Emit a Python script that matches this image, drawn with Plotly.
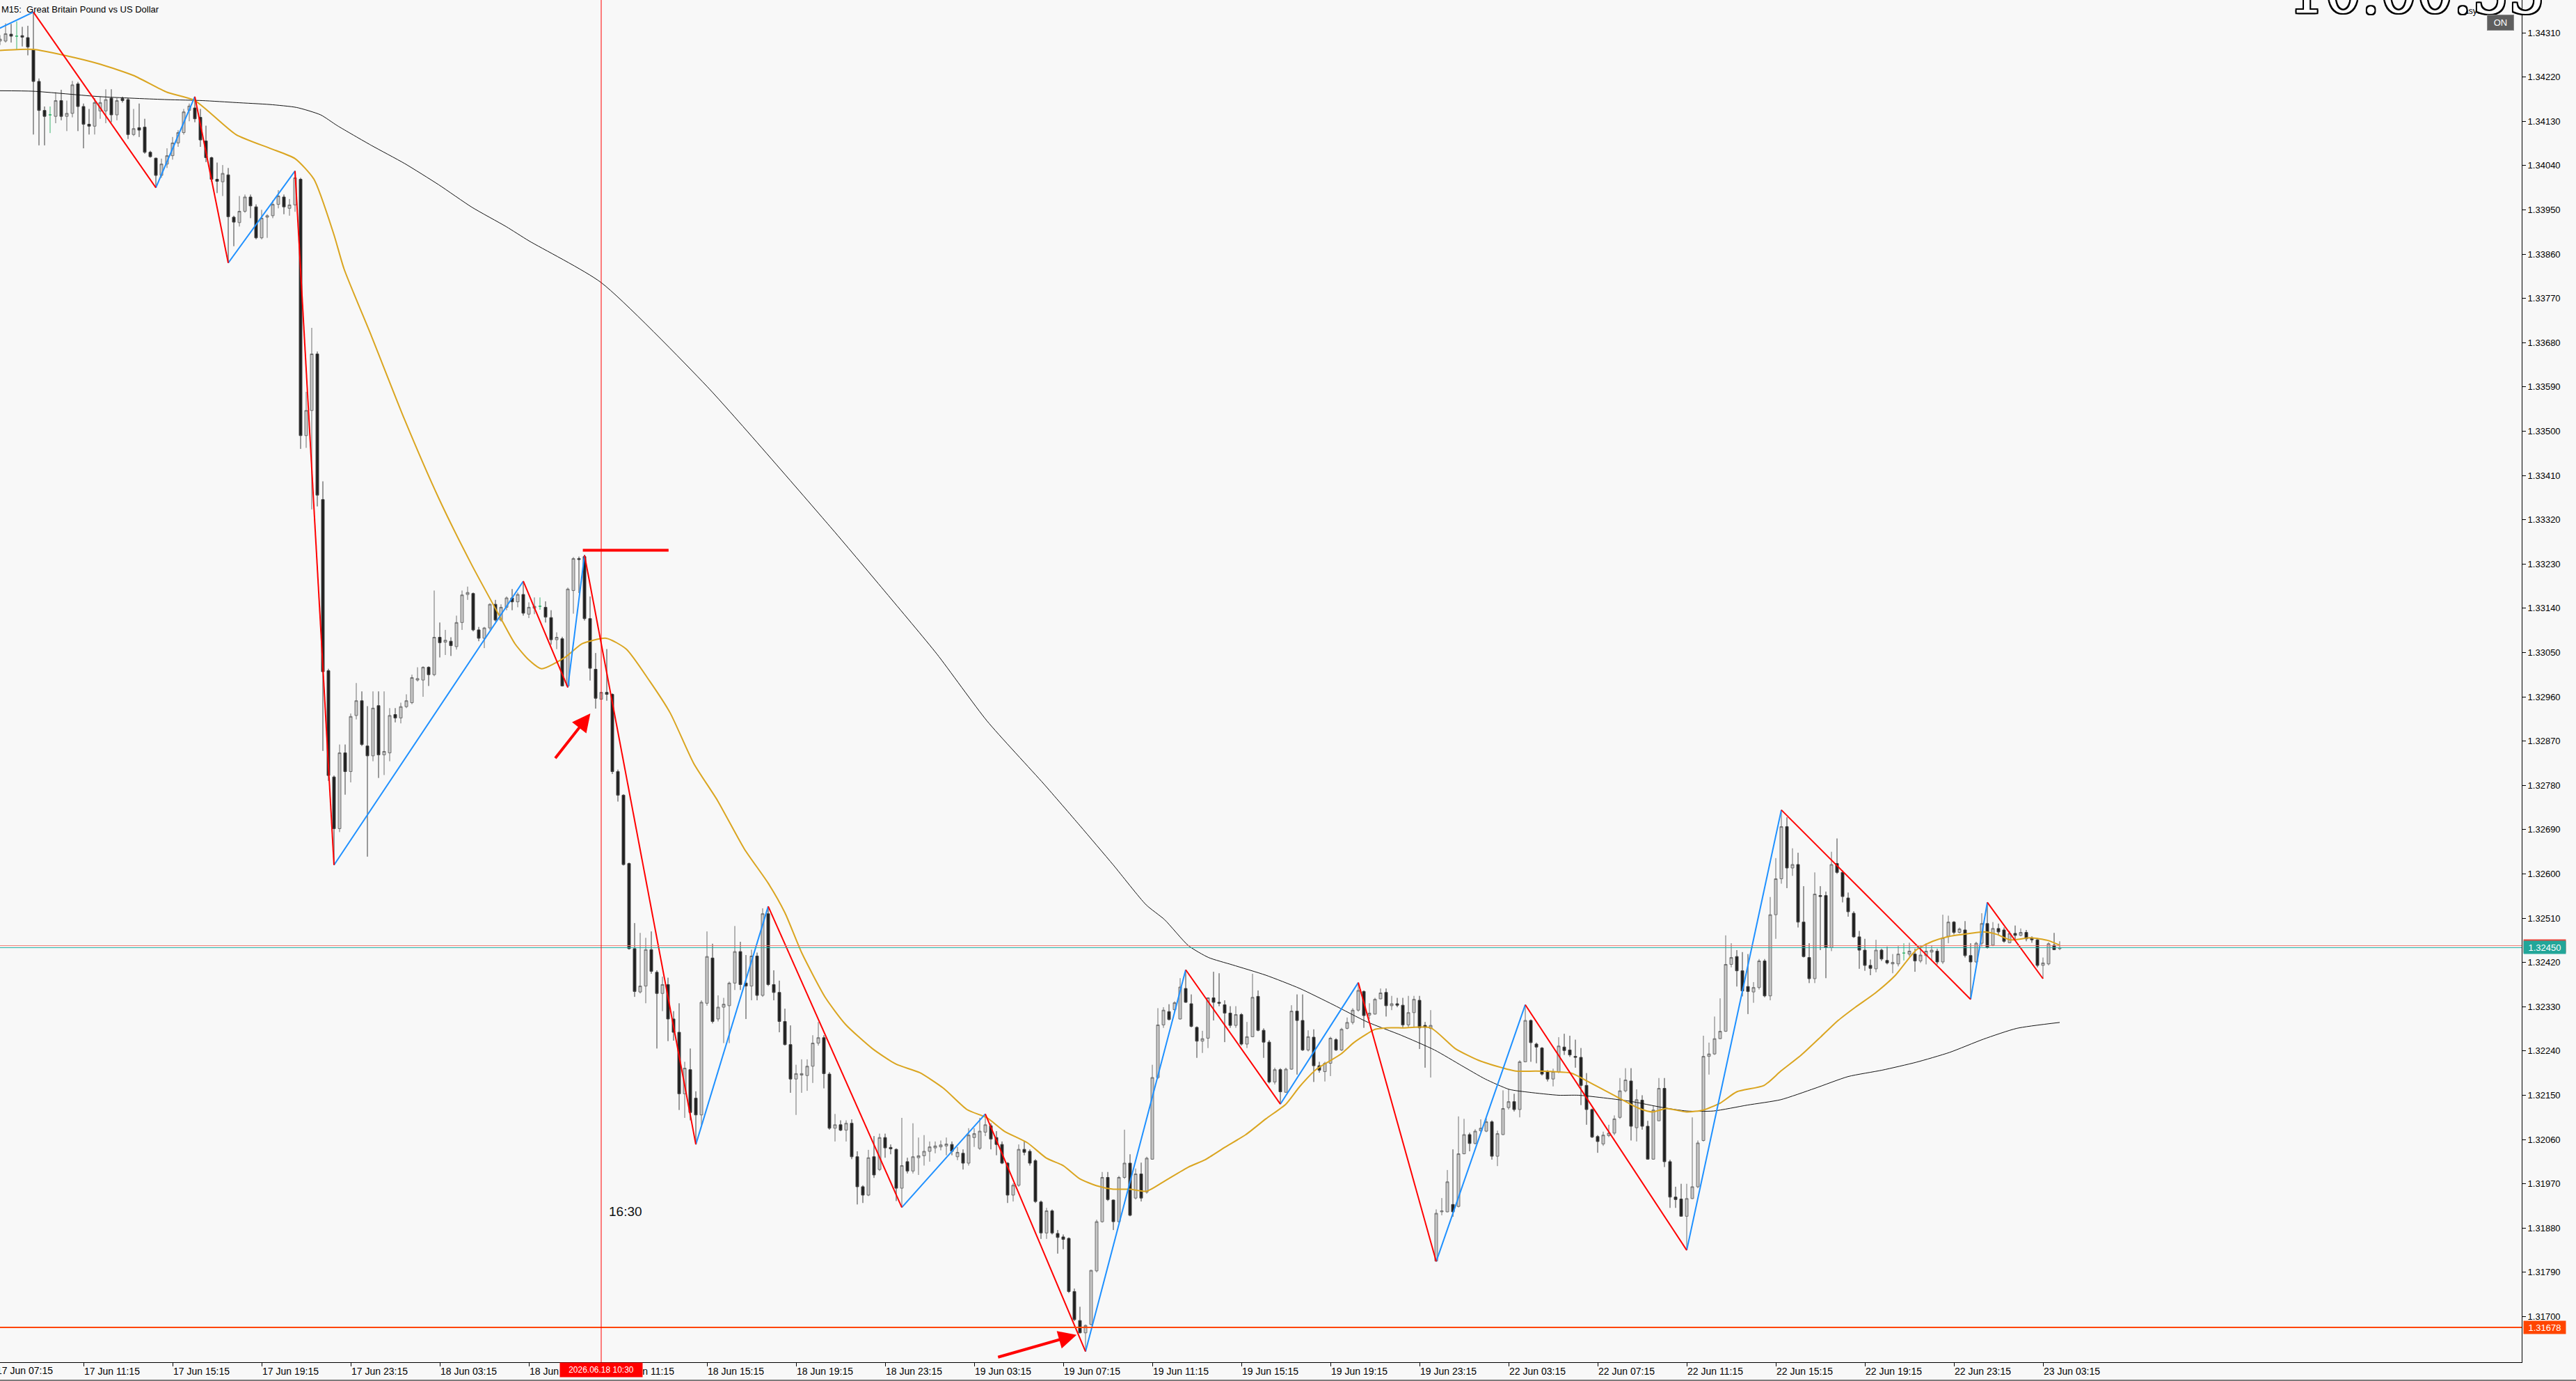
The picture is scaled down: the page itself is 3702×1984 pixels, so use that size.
import plotly.graph_objects as go

# ---------------- data (M15 GBPUSD, bar index 1..371; bar 0 = 17 Jun 07:15) ----------------
OPEN = [
1.34293,1.34293,1.34307,1.34303,1.34304,1.34300,1.34275,1.34211,1.34152,1.34143,
1.34140,1.34172,1.34140,1.34146,1.34206,1.34160,1.34124,1.34120,1.34151,1.34151,
1.34177,1.34143,1.34176,1.34174,1.34103,1.34117,1.34118,1.34067,1.34055,1.34020,
1.34043,1.34060,1.34086,1.34107,1.34152,1.34157,1.34138,1.34090,1.34056,1.34012,
1.34007,1.34021,1.33935,1.33924,1.33947,1.33976,1.33956,1.33893,1.33935,1.33938,
1.33961,1.33976,1.33953,1.33960,1.34012,1.33491,1.33542,1.33657,1.33361,1.33013,
1.32797,1.32692,1.32846,1.32808,1.32922,1.32952,1.32860,1.32840,1.32942,1.32842,
1.32846,1.32924,1.32917,1.32940,1.32948,1.32994,1.32994,1.33020,1.33005,1.33081,
1.33071,1.33073,1.33062,1.33111,1.33168,1.33170,1.33096,1.33079,1.33100,1.33148,
1.33116,1.33142,1.33161,1.33153,1.33168,1.33128,1.33140,1.33144,1.33142,1.33121,
1.33076,1.33078,1.32982,1.33176,1.33241,1.33245,1.33119,1.33016,1.32955,1.32969,
1.32965,1.32808,1.32760,1.32621,1.32448,1.32360,1.32372,1.32446,1.32400,1.32357,
1.32375,1.32305,1.32278,1.32153,1.32202,1.32144,1.32110,1.32337,1.32429,1.32305,
1.32329,1.32332,1.32378,1.32442,1.32378,1.32372,1.32433,1.32353,1.32519,1.32375,
1.32359,1.32300,1.32253,1.32183,1.32191,1.32190,1.32209,1.32256,1.32267,1.32193,
1.32083,1.32090,1.32079,1.32093,1.32025,1.31964,1.31947,1.32025,1.31999,1.32064,
1.32044,1.32040,1.31961,1.32015,1.31996,1.32023,1.32027,1.32036,1.32043,1.32045,
1.32047,1.32050,1.32025,1.32032,1.32012,1.32064,1.32042,1.32075,1.32088,1.32064,
1.32050,1.32012,1.31947,1.31967,1.32040,1.32036,1.32017,1.31933,1.31870,1.31915,
1.31869,1.31862,1.31859,1.31751,1.31692,1.31667,1.31684,1.31793,1.31893,1.31983,
1.31937,1.31893,1.31983,1.32012,1.31941,1.31990,1.31953,1.32020,1.32186,1.32293,
1.32320,1.32324,1.32305,1.32367,1.32336,1.32288,1.32260,1.32266,1.32348,1.32339,
1.32334,1.32317,1.32292,1.32314,1.32254,1.32269,1.32351,1.32282,1.32258,1.32177,
1.32202,1.32156,1.32203,1.32321,1.32302,1.32242,1.32268,1.32210,1.32198,1.32215,
1.32263,1.32242,1.32286,1.32298,1.32323,1.32361,1.32313,1.32315,1.32346,1.32359,
1.32332,1.32336,1.32333,1.32293,1.32318,1.32343,1.32292,1.32286,1.31813,1.31913,
1.31913,1.31928,1.31924,1.32031,1.32070,1.32052,1.32078,1.32077,1.32096,1.32026,
1.32070,1.32125,1.32137,1.32121,1.32218,1.32302,1.32254,1.32246,1.32198,1.32183,
1.32198,1.32248,1.32242,1.32229,1.32227,1.32170,1.32121,1.32066,1.32051,1.32068,
1.32073,1.32105,1.32159,1.32179,1.32084,1.32140,1.32087,1.32020,1.32098,1.32164,
1.32015,1.31943,1.31939,1.31904,1.31940,1.31964,1.32058,1.32229,1.32234,1.32265,
1.32280,1.32416,1.32432,1.32403,1.32371,1.32360,1.32369,1.32423,1.32352,1.32517,
1.32590,1.32696,1.32612,1.32619,1.32502,1.32430,1.32387,1.32556,1.32556,1.32450,
1.32621,1.32603,1.32551,1.32520,1.32472,1.32445,1.32414,1.32407,1.32445,1.32424,
1.32417,1.32417,1.32439,1.32437,1.32437,1.32423,1.32434,1.32441,1.32443,1.32421,
1.32473,1.32502,1.32481,1.32486,1.32434,1.32421,1.32459,1.32499,1.32455,1.32489,
1.32486,1.32460,1.32479,1.32475,1.32481,1.32470,1.32466,1.32414,1.32417,1.32455,1.32448]

HIGH = [
1.34305,1.34329,1.34328,1.34333,1.34322,1.34324,1.34352,1.34217,1.34160,1.34160,
1.34189,1.34194,1.34172,1.34212,1.34210,1.34166,1.34155,1.34177,1.34180,1.34195,
1.34195,1.34177,1.34180,1.34177,1.34155,1.34166,1.34135,1.34070,1.34056,1.34054,
1.34075,1.34098,1.34112,1.34155,1.34166,1.34180,1.34155,1.34121,1.34058,1.34046,
1.34041,1.34035,1.33938,1.33978,1.33981,1.33981,1.33961,1.33950,1.33941,1.33969,
1.33990,1.33981,1.33972,1.34029,1.34015,1.33580,1.33710,1.33662,1.33398,1.33017,
1.32800,1.32863,1.32863,1.32926,1.32988,1.32971,1.32941,1.32971,1.32971,1.32971,
1.32937,1.32937,1.32948,1.32965,1.33005,1.33020,1.33022,1.33022,1.33176,1.33111,
1.33096,1.33081,1.33125,1.33176,1.33184,1.33172,1.33102,1.33102,1.33150,1.33157,
1.33148,1.33164,1.33179,1.33172,1.33195,1.33152,1.33162,1.33162,1.33154,1.33136,
1.33091,1.33082,1.33182,1.33244,1.33245,1.33248,1.33164,1.33049,1.32969,1.33057,
1.32967,1.32812,1.32762,1.32623,1.32500,1.32480,1.32470,1.32483,1.32404,1.32391,
1.32389,1.32321,1.32337,1.32218,1.32245,1.32158,1.32343,1.32483,1.32458,1.32353,
1.32348,1.32381,1.32494,1.32462,1.32435,1.32446,1.32440,1.32530,1.32534,1.32404,
1.32383,1.32326,1.32292,1.32212,1.32223,1.32223,1.32272,1.32299,1.32272,1.32197,
1.32112,1.32099,1.32099,1.32101,1.32036,1.31967,1.32039,1.32067,1.32072,1.32072,
1.32050,1.32042,1.32104,1.32023,1.32093,1.32064,1.32069,1.32056,1.32056,1.32058,
1.32064,1.32056,1.32045,1.32040,1.32083,1.32083,1.32104,1.32112,1.32093,1.32077,
1.32056,1.32014,1.31971,1.32050,1.32056,1.32040,1.32020,1.31936,1.31921,1.31918,
1.31876,1.31867,1.31861,1.31757,1.31720,1.31684,1.31795,1.31897,1.31994,1.31994,
1.31938,1.31986,1.32080,1.32030,1.32001,1.32013,1.32025,1.32212,1.32327,1.32329,
1.32335,1.32341,1.32388,1.32405,1.32355,1.32290,1.32281,1.32349,1.32401,1.32398,
1.32343,1.32331,1.32331,1.32317,1.32299,1.32397,1.32363,1.32286,1.32262,1.32206,
1.32205,1.32206,1.32333,1.32355,1.32355,1.32282,1.32284,1.32218,1.32218,1.32269,
1.32266,1.32287,1.32308,1.32327,1.32379,1.32363,1.32337,1.32348,1.32367,1.32367,
1.32352,1.32348,1.32348,1.32352,1.32352,1.32352,1.32299,1.32323,1.31918,1.31941,
1.31998,1.32040,1.32107,1.32102,1.32074,1.32081,1.32101,1.32103,1.32099,1.32078,
1.32160,1.32162,1.32153,1.32221,1.32334,1.32304,1.32257,1.32248,1.32201,1.32204,
1.32268,1.32275,1.32271,1.32263,1.32246,1.32195,1.32123,1.32069,1.32076,1.32090,
1.32109,1.32185,1.32205,1.32205,1.32162,1.32150,1.32098,1.32128,1.32185,1.32185,
1.32019,1.31964,1.31970,1.31970,1.32105,1.32058,1.32271,1.32257,1.32310,1.32347,
1.32475,1.32459,1.32445,1.32441,1.32437,1.32380,1.32427,1.32427,1.32553,1.32632,
1.32730,1.32715,1.32652,1.32643,1.32575,1.32459,1.32603,1.32575,1.32564,1.32645,
1.32672,1.32607,1.32562,1.32524,1.32484,1.32468,1.32426,1.32466,1.32448,1.32452,
1.32437,1.32453,1.32459,1.32460,1.32448,1.32455,1.32459,1.32455,1.32448,1.32517,
1.32515,1.32504,1.32491,1.32504,1.32459,1.32462,1.32520,1.32542,1.32502,1.32499,
1.32491,1.32484,1.32495,1.32489,1.32486,1.32473,1.32468,1.32430,1.32461,1.32480,1.32463]

LOW = [
1.34285,1.34290,1.34290,1.34275,1.34282,1.34264,1.34103,1.34081,1.34081,1.34106,
1.34126,1.34132,1.34110,1.34138,1.34110,1.34075,1.34103,1.34103,1.34135,1.34126,
1.34128,1.34132,1.34168,1.34094,1.34100,1.34098,1.34064,1.34056,1.33995,1.34015,
1.34035,1.34052,1.34078,1.34103,1.34130,1.34128,1.34078,1.34047,1.34007,1.33984,
1.33978,1.33842,1.33876,1.33916,1.33944,1.33933,1.33890,1.33890,1.33893,1.33933,
1.33953,1.33941,1.33938,1.33946,1.33464,1.33466,1.33341,1.33347,1.32850,1.32789,
1.32618,1.32685,1.32761,1.32786,1.32914,1.32860,1.32635,1.32829,1.32795,1.32801,
1.32829,1.32908,1.32906,1.32937,1.32945,1.32991,1.32960,1.32982,1.33002,1.33040,
1.33045,1.33043,1.33056,1.33096,1.33157,1.33093,1.33073,1.33059,1.33096,1.33113,
1.33113,1.33136,1.33136,1.33142,1.33125,1.33120,1.33128,1.33137,1.33111,1.33066,
1.33057,1.32981,1.32979,1.33129,1.33171,1.33115,1.32993,1.32936,1.32955,1.32952,
1.32803,1.32747,1.32617,1.32446,1.32350,1.32357,1.32337,1.32397,1.32245,1.32321,
1.32260,1.32261,1.32120,1.32104,1.32099,1.32050,1.32090,1.32332,1.32296,1.32300,
1.32256,1.32256,1.32364,1.32364,1.32305,1.32343,1.32343,1.32350,1.32372,1.32343,
1.32278,1.32251,1.32155,1.32110,1.32155,1.32159,1.32175,1.32251,1.32164,1.32080,
1.32056,1.32077,1.32056,1.32020,1.31928,1.31931,1.31945,1.31982,1.31996,1.32023,
1.32030,1.31935,1.31922,1.31991,1.31991,1.31988,1.32007,1.32015,1.32032,1.32038,
1.32028,1.32028,1.32018,1.31999,1.32007,1.32045,1.32039,1.32067,1.32040,1.32028,
1.32010,1.31931,1.31934,1.31964,1.32028,1.32007,1.31931,1.31858,1.31858,1.31867,
1.31828,1.31837,1.31748,1.31691,1.31666,1.31629,1.31682,1.31790,1.31891,1.31935,
1.31876,1.31891,1.31980,1.31904,1.31938,1.31934,1.31950,1.32019,1.32183,1.32287,
1.32302,1.32320,1.32304,1.32338,1.32288,1.32226,1.32236,1.32246,1.32302,1.32331,
1.32258,1.32287,1.32287,1.32251,1.32246,1.32268,1.32280,1.32226,1.32174,1.32172,
1.32132,1.32155,1.32202,1.32192,1.32240,1.32239,1.32177,1.32196,1.32178,1.32189,
1.32240,1.32240,1.32284,1.32294,1.32320,1.32287,1.32305,1.32314,1.32345,1.32310,
1.32323,1.32329,1.32288,1.32287,1.32287,1.32244,1.32206,1.32186,1.31812,1.31906,
1.31912,1.31903,1.31922,1.32030,1.32036,1.32050,1.32075,1.32075,1.32019,1.32006,
1.32069,1.32121,1.32117,1.32105,1.32217,1.32218,1.32215,1.32190,1.32178,1.32168,
1.32195,1.32232,1.32228,1.32206,1.32130,1.32090,1.32063,1.32033,1.32047,1.32065,
1.32069,1.32102,1.32156,1.32058,1.32056,1.32080,1.32019,1.32019,1.32098,1.32004,
1.31921,1.31921,1.31903,1.31835,1.31939,1.31961,1.32056,1.32192,1.32232,1.32264,
1.32279,1.32410,1.32371,1.32351,1.32315,1.32338,1.32365,1.32349,1.32343,1.32468,
1.32580,1.32571,1.32596,1.32491,1.32430,1.32378,1.32378,1.32445,1.32388,1.32443,
1.32600,1.32542,1.32513,1.32470,1.32407,1.32403,1.32394,1.32400,1.32423,1.32416,
1.32398,1.32412,1.32424,1.32432,1.32401,1.32419,1.32416,1.32424,1.32416,1.32417,
1.32459,1.32477,1.32479,1.32430,1.32345,1.32419,1.32452,1.32448,1.32453,1.32475,
1.32460,1.32459,1.32466,1.32473,1.32463,1.32460,1.32410,1.32387,1.32414,1.32445,1.32445]

CLOSE = [
1.34297,1.34308,1.34303,1.34303,1.34301,1.34281,1.34211,1.34152,1.34140,1.34143,
1.34172,1.34140,1.34146,1.34204,1.34160,1.34124,1.34120,1.34168,1.34168,1.34174,
1.34143,1.34172,1.34172,1.34103,1.34115,1.34112,1.34067,1.34058,1.34020,1.34043,
1.34060,1.34086,1.34107,1.34149,1.34161,1.34135,1.34092,1.34056,1.34012,1.34008,
1.34024,1.33936,1.33925,1.33947,1.33976,1.33958,1.33893,1.33933,1.33938,1.33961,
1.33978,1.33956,1.33960,1.34015,1.33491,1.33542,1.33657,1.33370,1.33011,1.32800,
1.32692,1.32846,1.32808,1.32920,1.32952,1.32863,1.32840,1.32937,1.32842,1.32849,
1.32922,1.32917,1.32940,1.32952,1.32999,1.32997,1.33020,1.33005,1.33081,1.33070,
1.33075,1.33064,1.33111,1.33167,1.33172,1.33096,1.33079,1.33100,1.33148,1.33116,
1.33142,1.33161,1.33153,1.33168,1.33130,1.33142,1.33144,1.33144,1.33122,1.33076,
1.33081,1.32982,1.33179,1.33241,1.33239,1.33119,1.33018,1.32957,1.32969,1.32965,
1.32808,1.32760,1.32619,1.32448,1.32361,1.32372,1.32446,1.32402,1.32357,1.32375,
1.32305,1.32278,1.32153,1.32205,1.32115,1.32110,1.32339,1.32432,1.32300,1.32329,
1.32335,1.32378,1.32442,1.32375,1.32372,1.32433,1.32353,1.32519,1.32375,1.32359,
1.32300,1.32253,1.32183,1.32194,1.32194,1.32209,1.32256,1.32267,1.32194,1.32083,
1.32090,1.32079,1.32093,1.32025,1.31964,1.31947,1.32023,1.31988,1.32064,1.32043,
1.32041,1.31961,1.32007,1.31996,1.32025,1.32027,1.32036,1.32045,1.32047,1.32049,
1.32051,1.32036,1.32034,1.32012,1.32069,1.32072,1.32077,1.32090,1.32061,1.32050,
1.32012,1.31947,1.31967,1.32040,1.32034,1.32012,1.31934,1.31870,1.31915,1.31870,
1.31861,1.31857,1.31751,1.31694,1.31667,1.31682,1.31794,1.31893,1.31983,1.31938,
1.31893,1.31983,1.32012,1.31906,1.31990,1.31941,1.32022,1.32186,1.32293,1.32323,
1.32304,1.32338,1.32370,1.32339,1.32290,1.32260,1.32265,1.32348,1.32339,1.32337,
1.32317,1.32292,1.32314,1.32254,1.32269,1.32349,1.32282,1.32258,1.32177,1.32202,
1.32157,1.32203,1.32321,1.32302,1.32242,1.32269,1.32210,1.32201,1.32215,1.32266,
1.32242,1.32284,1.32298,1.32323,1.32363,1.32312,1.32317,1.32345,1.32358,1.32332,
1.32336,1.32333,1.32293,1.32318,1.32345,1.32287,1.32288,1.32292,1.31910,1.31915,
1.31974,1.31913,1.32031,1.32070,1.32052,1.32077,1.32083,1.32096,1.32026,1.32072,
1.32123,1.32137,1.32121,1.32218,1.32302,1.32257,1.32248,1.32193,1.32183,1.32198,
1.32250,1.32241,1.32232,1.32227,1.32170,1.32121,1.32065,1.32056,1.32069,1.32073,
1.32102,1.32159,1.32181,1.32087,1.32141,1.32087,1.32020,1.32120,1.32164,1.32015,
1.31943,1.31938,1.31904,1.31940,1.31964,1.32053,1.32229,1.32234,1.32265,1.32280,
1.32416,1.32430,1.32403,1.32362,1.32361,1.32369,1.32423,1.32352,1.32517,1.32590,
1.32696,1.32612,1.32619,1.32502,1.32432,1.32387,1.32559,1.32554,1.32450,1.32619,
1.32603,1.32554,1.32523,1.32472,1.32445,1.32414,1.32408,1.32445,1.32427,1.32419,
1.32420,1.32437,1.32439,1.32443,1.32423,1.32435,1.32443,1.32445,1.32421,1.32470,
1.32502,1.32481,1.32488,1.32434,1.32421,1.32459,1.32499,1.32450,1.32489,1.32482,
1.32463,1.32479,1.32475,1.32481,1.32468,1.32466,1.32414,1.32419,1.32458,1.32446,1.32450]

FIRST_BAR = 1
BARS = list(range(FIRST_BAR, FIRST_BAR + len(OPEN)))
assert len(OPEN) == len(HIGH) == len(LOW) == len(CLOSE) == 371

# ZigZag pivots (bar, price)
ZZ_BARS = [0, 7, 29, 36, 42, 54, 61, 95, 103, 106, 126, 139, 163, 178, 196, 214, 231, 245, 259, 275, 304, 321, 355, 358, 368]
ZZ_PRICES = [1.34314, 1.34352, 1.33995, 1.34180, 1.33842, 1.34029, 1.32618, 1.33195, 1.32979, 1.33248,
             1.32050, 1.32534, 1.31922, 1.32112, 1.31629, 1.32405, 1.32132, 1.32379, 1.31812, 1.32334,
             1.31835, 1.32730, 1.32345, 1.32542, 1.32387]

# Fast MA (orange) read at points
MAF_BARS = [1, 7, 13, 19, 25, 31, 36, 43.4, 49.5, 54, 57.4, 61, 62.8, 67.7, 73.7, 79.8, 85.8, 90.7, 93.5, 96,
            98.3, 102.6, 105.6, 109.9, 113.5, 117.7, 121.4, 125.6, 129.9, 134.7, 139, 142, 145, 149.3, 152.9,
            157.7, 162, 166.2, 170.5, 174.7, 178.3, 181.4, 185.6, 189, 192, 195, 198, 201, 204, 207, 210, 214.5,
            217.5, 221, 224.8, 228.4, 232, 234.5, 237.5, 241.8, 244.2, 246.6, 248, 250, 253, 258, 262.4, 266.6,
            270.8, 273.3, 276.9, 280, 283.3, 286.4, 290.6, 295.5, 297.9, 300.3, 304, 307, 310, 313, 317.9, 320.9,
            324.6, 328.2, 331.2, 334.3, 337.9, 341.5, 345.2, 348.2, 351.2, 354.9, 357.3, 359.7, 362.1, 365.8,
            368.8, 371]
MAF_VALS = [1.34274, 1.34276, 1.34263, 1.34246, 1.34223, 1.34189, 1.34172, 1.34103, 1.34075, 1.34054, 1.34012,
            1.33899, 1.33830, 1.33694, 1.33523, 1.33364, 1.33227, 1.33125, 1.33068, 1.33035, 1.33017, 1.33041,
            1.33068, 1.33079, 1.33057, 1.32992, 1.32927, 1.32825, 1.32749, 1.32651, 1.32581, 1.32521, 1.32440,
            1.32348, 1.32294, 1.32245, 1.32213, 1.32196, 1.32164, 1.32121, 1.32104, 1.32077, 1.32053, 1.32022,
            1.32007, 1.31980, 1.31966, 1.31959, 1.31959, 1.31955, 1.31974, 1.32004, 1.32019, 1.32044, 1.32070,
            1.32102, 1.32132, 1.32168, 1.32203, 1.32233, 1.32257, 1.32275, 1.32284, 1.32287, 1.32287, 1.32287,
            1.32245, 1.32221, 1.32206, 1.32199, 1.32199, 1.32198, 1.32195, 1.32177, 1.32152, 1.32123, 1.32116,
            1.32123, 1.32116, 1.32120, 1.32134, 1.32157, 1.32170, 1.32199, 1.32232, 1.32270, 1.32302, 1.32329,
            1.32358, 1.32394, 1.32445, 1.32463, 1.32473, 1.32479, 1.32482, 1.32477, 1.32466, 1.32470, 1.32465,
            1.32455]

# Slow MA (black) read at points
MAS_BARS = [1, 7, 19, 31, 37.4, 43.4, 49.5, 54.3, 58.6, 61.6, 67.7, 73.7, 79.8, 85.8, 91.9, 96, 109, 128, 150.5,
            160.2, 169.3, 178.3, 188.5, 195, 201, 206.9, 210.2, 214.5, 218.1, 222.4, 228.4, 234.5, 240.5, 246.6,
            252.7, 258.7, 263.6, 267.8, 272.1, 275.7, 281, 284.6, 293.7, 299.7, 304, 308.8, 314.9, 320.9, 327,
            333, 339.1, 345.2, 351.2, 357.3, 363.3, 371]
MAS_VALS = [1.34192, 1.34191, 1.34180, 1.34174, 1.34172, 1.34168, 1.34164, 1.34158, 1.34143, 1.34121, 1.34081,
            1.34044, 1.34001, 1.33955, 1.33916, 1.33887, 1.33802, 1.33591, 1.33301, 1.33171, 1.33047, 1.32911,
            1.32783, 1.32698, 1.32618, 1.32537, 1.32507, 1.32454, 1.32430, 1.32415, 1.32394, 1.32367, 1.32334,
            1.32299, 1.32272, 1.32242, 1.32210, 1.32183, 1.32162, 1.32156, 1.32150, 1.32150, 1.32138, 1.32125,
            1.32118, 1.32118, 1.32130, 1.32141, 1.32164, 1.32188, 1.32201, 1.32217, 1.32237, 1.32264, 1.32286,
            1.32298]

X_TICK_BARS = [16, 32, 48, 64, 80, 96, 112, 128, 144, 160, 176, 192, 208, 224, 240, 256, 272, 288, 304, 320, 336, 352, 368]
X_TICK_TEXT = ["17 Jun 11:15", "17 Jun 15:15", "17 Jun 19:15", "17 Jun 23:15", "18 Jun 03:15", "18 Jun 07:15",
               "18 Jun 11:15", "18 Jun 15:15", "18 Jun 19:15", "18 Jun 23:15", "19 Jun 03:15", "19 Jun 07:15",
               "19 Jun 11:15", "19 Jun 15:15", "19 Jun 19:15", "19 Jun 23:15", "22 Jun 03:15", "22 Jun 07:15",
               "22 Jun 11:15", "22 Jun 15:15", "22 Jun 19:15", "22 Jun 23:15", "23 Jun 03:15"]
FIRST_LABEL_BAR = 0
FIRST_LABEL_TEXT = "17 Jun 07:15"

Y_TICKS = [1.34310, 1.34220, 1.34130, 1.34040, 1.33950, 1.33860, 1.33770, 1.33680, 1.33590, 1.33500,
           1.33410, 1.33320, 1.33230, 1.33140, 1.33050, 1.32960, 1.32870, 1.32780, 1.32690, 1.32600,
           1.32510, 1.32420, 1.32330, 1.32240, 1.32150, 1.32060, 1.31970, 1.31880, 1.31790, 1.31700]

BID = 1.32450
ASK = 1.32454
LEVEL = 1.31678
VLINE_BAR = 109
VLINE_LABEL = "2026.06.18 10:30"
SEG_BARS = [105.7, 121.1]
SEG_PRICE = 1.33258
ARROWS = [  # (tail bar, tail price, tip bar, tip price)
    (100.6, 1.32833, 107.05, 1.32926),
    (180.1, 1.31617, 194.4, 1.31663),
]
NOTE_BAR, NOTE_PRICE, NOTE_TEXT = 110.1, 1.31914, "16:30"

X_RANGE = [1, 454]
Y_RANGE = [1.316073, 1.343765]
PLOT_W = 3624          # plot-area width in px (bars are 8 px apart)
BAR_PX = (PLOT_W) / (X_RANGE[1] - X_RANGE[0])

FONT = "Liberation Sans, Arial, sans-serif"
BG = "#F8F8F8"

# ---------------- figure ----------------
fig = go.Figure()

norm = [i for i in range(len(OPEN)) if OPEN[i] != CLOSE[i]]
doji = [i for i in range(len(OPEN)) if OPEN[i] == CLOSE[i]]

fig.add_trace(go.Candlestick(
    x=[BARS[i] for i in norm], open=[OPEN[i] for i in norm], high=[HIGH[i] for i in norm],
    low=[LOW[i] for i in norm], close=[CLOSE[i] for i in norm],
    increasing=dict(line=dict(color="#6E6E6E", width=1), fillcolor="#C8C8C8"),
    decreasing=dict(line=dict(color="#3A3A3A", width=1), fillcolor="#202020"),
    whiskerwidth=0, showlegend=False, hoverinfo="skip"))
fig.add_trace(go.Candlestick(
    x=[BARS[i] for i in doji], open=[OPEN[i] for i in doji], high=[HIGH[i] for i in doji],
    low=[LOW[i] for i in doji], close=[CLOSE[i] for i in doji],
    increasing=dict(line=dict(color="#3CB371", width=1), fillcolor="#3CB371"),
    decreasing=dict(line=dict(color="#3CB371", width=1), fillcolor="#3CB371"),
    whiskerwidth=0, showlegend=False, hoverinfo="skip"))

# moving averages
fig.add_trace(go.Scatter(x=MAS_BARS, y=MAS_VALS, mode="lines",
                         line=dict(color="#111111", width=1, shape="spline", smoothing=0.6),
                         showlegend=False, hoverinfo="skip"))
fig.add_trace(go.Scatter(x=MAF_BARS, y=MAF_VALS, mode="lines",
                         line=dict(color="#DAA520", width=2, shape="spline", smoothing=0.6),
                         showlegend=False, hoverinfo="skip"))

# zigzag
up_x, up_y, dn_x, dn_y = [], [], [], []
for k in range(len(ZZ_BARS) - 1):
    seg_x = [ZZ_BARS[k], ZZ_BARS[k + 1], None]
    seg_y = [ZZ_PRICES[k], ZZ_PRICES[k + 1], None]
    if ZZ_PRICES[k + 1] > ZZ_PRICES[k]:
        up_x += seg_x; up_y += seg_y
    else:
        dn_x += seg_x; dn_y += seg_y
fig.add_trace(go.Scatter(x=up_x, y=up_y, mode="lines", line=dict(color="#1E90FF", width=2),
                         showlegend=False, hoverinfo="skip"))
fig.add_trace(go.Scatter(x=dn_x, y=dn_y, mode="lines", line=dict(color="#FF0000", width=2),
                         showlegend=False, hoverinfo="skip"))

shapes = [
    dict(type="line", xref="paper", yref="y", x0=0, x1=1, y0=ASK, y1=ASK, line=dict(color="#F07A6E", width=1)),
    dict(type="line", xref="paper", yref="y", x0=0, x1=1, y0=BID, y1=BID, line=dict(color="#20B2AA", width=1)),
    dict(type="line", xref="paper", yref="y", x0=0, x1=1, y0=LEVEL, y1=LEVEL, line=dict(color="#FF4500", width=2)),
    dict(type="line", xref="x", yref="paper", x0=VLINE_BAR, x1=VLINE_BAR, y0=0, y1=1, line=dict(color="#FF0000", width=1)),
    dict(type="line", xref="x", yref="y", x0=SEG_BARS[0], x1=SEG_BARS[1], y0=SEG_PRICE, y1=SEG_PRICE,
         line=dict(color="#FF0000", width=4)),
    dict(type="line", xref="paper", yref="paper", x0=0, x1=3702 / PLOT_W, y0=-26 / 1957, y1=-26 / 1957,
         line=dict(color="#000000", width=1)),
]

ann = []
# price labels on the right axis
for val, col in [(ASK, "#E5473C"), (BID, "#22A699"), (LEVEL, "#FF4500")]:
    ann.append(dict(xref="paper", yref="y", x=3657 / PLOT_W, y=val, text=f"{val:.5f}", showarrow=False,
                    xanchor="center", yanchor="middle", bgcolor=col, width=58, height=16, borderpad=1,
                    font=dict(family=FONT, size=13, color="white")))
# date label on x axis
ann.append(dict(xref="x", yref="paper", x=VLINE_BAR, y=0, yanchor="top", xanchor="center", text=VLINE_LABEL,
                showarrow=False, bgcolor="#FF0000", width=116, height=18, borderpad=1,
                font=dict(family=FONT, size=12, color="white")))
# first, partially hidden x label (its tick lies left of the plot area)
first_x_paper = (FIRST_LABEL_BAR - X_RANGE[0]) * BAR_PX / PLOT_W
ann.append(dict(xref="paper", yref="paper", x=first_x_paper, y=0, yanchor="top", xanchor="left",
                text=FIRST_LABEL_TEXT, showarrow=False, yshift=-2, xshift=1,
                font=dict(family=FONT, size=14, color="black")))
# arrows
for tx, ty, hx, hy in ARROWS:
    ann.append(dict(xref="x", yref="y", axref="x", ayref="y", x=hx, y=hy, ax=tx, ay=ty, text="",
                    showarrow=True, arrowhead=2, arrowsize=1.3, arrowwidth=4, arrowcolor="#FF0000", standoff=0))
# note
ann.append(dict(xref="x", yref="y", x=NOTE_BAR, y=NOTE_PRICE, text=NOTE_TEXT, showarrow=False,
                xanchor="left", yanchor="middle", font=dict(family=FONT, size=19, color="#111111")))
# title
ann.append(dict(xref="paper", yref="paper", x=0, y=1, xanchor="left", yanchor="top", yshift=-4,
                text="M15:  Great Britain Pound vs US Dollar", showarrow=False,
                font=dict(family=FONT, size=13, color="black")))
# Easyorder text
ann.append(dict(xref="paper", yref="paper", x=3531 / PLOT_W, y=1, xanchor="left", yanchor="middle", yshift=-16,
                text="Easyor", showarrow=False, font=dict(family=FONT, size=12, color="black")))
# clock
ann.append(dict(xref="paper", yref="paper", x=3473 / PLOT_W, y=1, xanchor="center", yanchor="bottom", yshift=-40,
                text="10:00:55", showarrow=False,
                font=dict(family="DejaVu Serif, serif", size=82, color="white",
                          shadow="2px 2px 0 #000, -2px -2px 0 #000, 2px -2px 0 #000, -2px 2px 0 #000, "
                                 "0 2px 0 #000, 0 -2px 0 #000, 2px 0 0 #000, -2px 0 0 #000")))
# ON button
ann.append(dict(xref="paper", yref="paper", x=3593.5 / PLOT_W, y=1 - 32.5 / 1957, xanchor="center", yanchor="middle",
                text="ON", showarrow=False, bgcolor="#5E5E5E", bordercolor="#8A8A8A", borderwidth=1,
                width=35, height=19, font=dict(family=FONT, size=13, color="white")))

fig.update_layout(
    width=3702, height=1984, autosize=False,
    margin=dict(l=0, r=78, t=0, b=27),
    paper_bgcolor=BG, plot_bgcolor=BG,
    shapes=shapes, annotations=ann,
    showlegend=False,
    xaxis=dict(range=X_RANGE, showgrid=False, zeroline=False, showline=True, linecolor="black", linewidth=1,
               ticks="outside", ticklen=5, tickcolor="black", tickvals=X_TICK_BARS, ticktext=X_TICK_TEXT,
               ticklabelposition="outside right", tickfont=dict(family=FONT, size=14, color="black"),
               rangeslider=dict(visible=False)),
    yaxis=dict(range=Y_RANGE, side="right", showgrid=False, zeroline=False, showline=True, linecolor="black",
               linewidth=1, ticks="outside", ticklen=5, tickcolor="black", tickvals=Y_TICKS,
               ticktext=[f"{v:.5f}" for v in Y_TICKS], tickfont=dict(family=FONT, size=13, color="black")),
)

fig.write_html("out.html")
